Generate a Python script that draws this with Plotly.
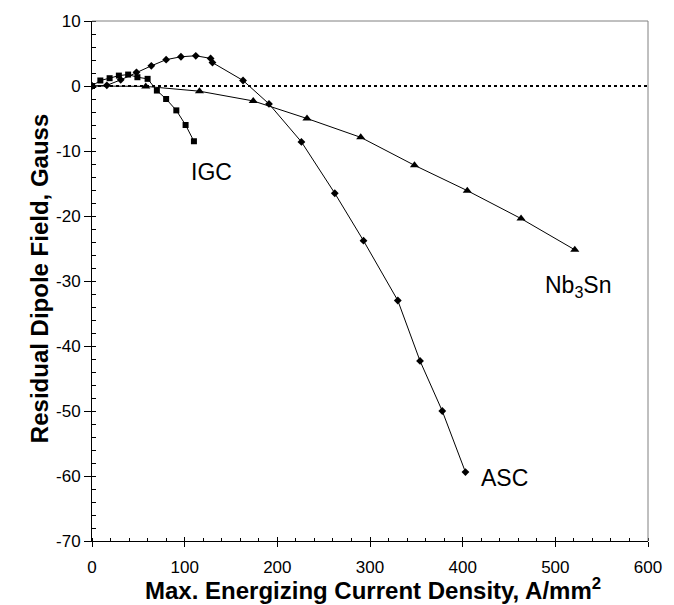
import plotly.graph_objects as go

# ---- data ----
asc_x = [0, 16, 31, 48, 64, 80, 96, 112, 128, 130, 163, 191, 226, 262, 293, 330, 354, 378, 403]
asc_y = [0, 0.1, 0.95, 2.1, 3.1, 4.05, 4.5, 4.65, 4.25, 3.6, 0.85, -2.75, -8.6, -16.5, -23.8, -33.0, -42.3, -50.0, -59.4]

nb_x = [0, 58, 116, 174, 232, 290, 348, 405, 463, 521]
nb_y = [0, -0.06, -0.8, -2.3, -5.0, -7.9, -12.2, -16.1, -20.4, -25.2]

igc_x = [0, 9, 19, 29, 39, 49, 60, 70, 80, 91, 101, 110]
igc_y = [0, 0.85, 1.2, 1.6, 1.76, 1.35, 1.1, -0.7, -2.0, -3.75, -6.0, -8.5]

x_ticks = [0, 100, 200, 300, 400, 500, 600]
y_ticks = [10, 0, -10, -20, -30, -40, -50, -60, -70]
y_tick_text = ["10", "0", "-10", "-20", "-30", "-40", "-50", "-60", "-70"]

series_labels = ["IGC", "ASC", "Nb<sub>3</sub>Sn"]

FONT = "Arial, Liberation Sans, sans-serif"

fig = go.Figure()

line_style = dict(color="black", width=1)
fig.add_trace(go.Scatter(x=nb_x, y=nb_y, mode="lines+markers", line=line_style,
                         marker=dict(symbol="triangle-up", size=8, color="black"),
                         name=series_labels[2]))
fig.add_trace(go.Scatter(x=asc_x, y=asc_y, mode="lines+markers", line=line_style,
                         marker=dict(symbol="diamond", size=6, color="black"),
                         name=series_labels[1]))
fig.add_trace(go.Scatter(x=igc_x, y=igc_y, mode="lines+markers", line=line_style,
                         marker=dict(symbol="square", size=6, color="black"),
                         name=series_labels[0]))
# dummy trace to activate the secondary (tick-only) axes
fig.add_trace(go.Scatter(x=[None], y=[None], xaxis="x2", yaxis="y2",
                         showlegend=False, hoverinfo="skip"))

# dotted zero reference line
fig.add_shape(type="line", xref="paper", x0=0, x1=1, yref="y", y0=0, y1=0,
              line=dict(color="black", width=2, dash="dot"), layer="below")
# gray frame top/right
fig.add_shape(type="line", xref="paper", yref="paper", x0=0, x1=1, y0=1, y1=1,
              line=dict(color="#808080", width=1))
fig.add_shape(type="line", xref="paper", yref="paper", x0=1, x1=1, y0=0, y1=1,
              line=dict(color="#808080", width=1))

xr = [0, 600]
yr = [-70, 10]

fig.update_layout(
    width=674, height=605,
    margin=dict(l=92, r=22, t=15, b=64),
    paper_bgcolor="white", plot_bgcolor="white",
    showlegend=False,
    font=dict(family=FONT, color="black", size=17),
    xaxis=dict(range=xr, tickvals=x_ticks, ticks="outside", ticklen=5, tickwidth=1,
               tickcolor="black", showline=True, linecolor="black", linewidth=1,
               showgrid=False, zeroline=False, ticklabelstandoff=6,
               tickfont=dict(size=17, family=FONT),
               minor=dict(dtick=20, ticks="inside", ticklen=3, tickcolor="black", showgrid=False)),
    yaxis=dict(range=yr, tickvals=y_ticks, ticktext=y_tick_text, ticks="outside", ticklen=7,
               tickwidth=1, tickcolor="black", showline=True, linecolor="black", linewidth=1,
               showgrid=False, zeroline=False,
               tickfont=dict(size=17, family=FONT),
               minor=dict(dtick=2, ticks="inside", ticklen=4, tickcolor="black", showgrid=False)),
    xaxis2=dict(range=xr, overlaying="x", anchor="y", side="bottom", tickvals=x_ticks,
                ticks="inside", ticklen=4, tickcolor="black", showticklabels=False,
                showline=False, showgrid=False, zeroline=False),
    yaxis2=dict(range=yr, overlaying="y", anchor="x", side="left", tickvals=y_ticks,
                ticks="inside", ticklen=3, tickcolor="black", showticklabels=False,
                showline=False, showgrid=False, zeroline=False),
)

# axis titles as annotations
fig.add_annotation(text="Max. Energizing Current Density, A/mm<sup>2</sup>",
                   xref="paper", yref="paper", x=0.506, y=-0.092,
                   xanchor="center", yanchor="middle", showarrow=False,
                   font=dict(size=24, family=FONT, color="black", weight="bold"))
fig.add_annotation(text="Residual Dipole Field, Gauss",
                   xref="paper", yref="paper", x=-0.094, y=0.505, textangle=-90,
                   xanchor="center", yanchor="middle", showarrow=False,
                   font=dict(size=24, family=FONT, color="black", weight="bold"))

# series labels
label_pos = [(128.5, -13.3), (445, -60.3), (525, -30.9)]
for txt, (lx, ly) in zip(series_labels, label_pos):
    fig.add_annotation(text=txt, x=lx, y=ly, xref="x", yref="y", showarrow=False,
                       xanchor="center", yanchor="middle",
                       font=dict(size=23, family=FONT, color="black"))

fig.write_html("out.html")
